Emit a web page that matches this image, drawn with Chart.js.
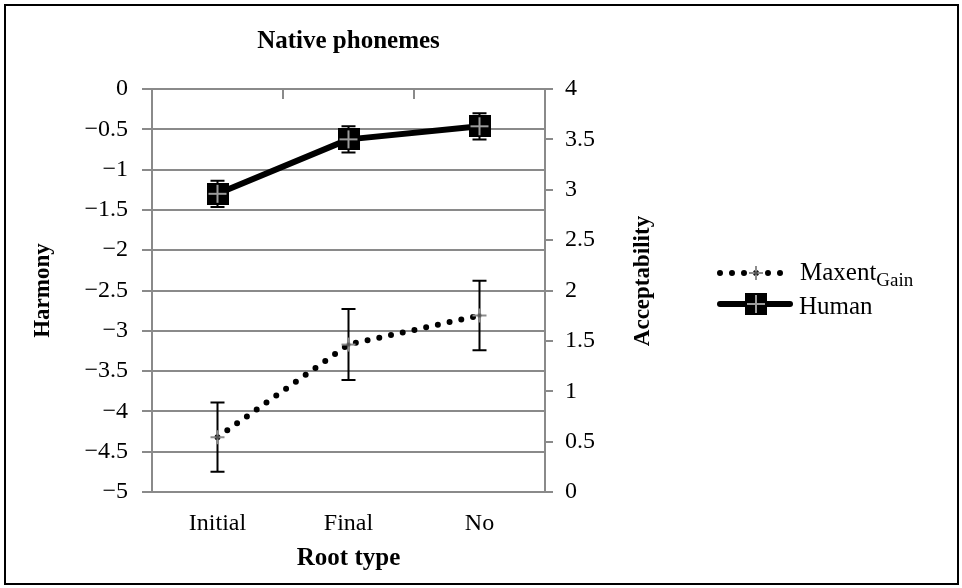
<!DOCTYPE html>
<html>
<head>
<meta charset="utf-8">
<title>Native phonemes</title>
<script src="https://cdn.jsdelivr.net/npm/chart.js@4.4.1/dist/chart.umd.min.js"></script>
<style>
  html, body { margin: 0; padding: 0; background: #fff; }
  #wrap { position: relative; width: 962px; height: 588px; }
  #frame { position: absolute; left: 4px; top: 4px; width: 955px; height: 581px; border: 2px solid #000; box-sizing: border-box; pointer-events: none; }
</style>
</head>
<body>
<div id="wrap">
  <canvas id="rootChart" width="962" height="588"></canvas>
  <div id="frame"></div>
</div>
<script>
// data
const rootTypes = ["Initial", "Final", "No"];
const maxentHarmony = [-4.32, -3.17, -2.81];
const maxentError = [0.43, 0.44, 0.43];
const humanAcceptability = [2.96, 3.5, 3.63];
const humanError = [0.13, 0.13, 0.13];
const harmonyRange = [-5, 0];
const acceptRange = [0, 4];
const tickStep = 0.5;

const serif = "'Liberation Serif', 'Times New Roman', serif";
const gridGray = "#8a8a8a";

// marker images
function humanMarker() {
  const c = document.createElement("canvas");
  c.width = 22; c.height = 22;
  const g = c.getContext("2d");
  g.fillStyle = "#000";
  g.fillRect(0, 0, 22, 22);
  g.strokeStyle = "#9c9c9c";
  g.lineWidth = 2;
  g.beginPath();
  g.moveTo(11, 2); g.lineTo(11, 20);
  g.moveTo(2, 11); g.lineTo(20, 11);
  g.stroke();
  return c;
}

function maxentMarker() {
  const c = document.createElement("canvas");
  c.width = 16; c.height = 16;
  const g = c.getContext("2d");
  g.strokeStyle = "#8c8c8c";
  g.lineWidth = 2;
  g.beginPath();
  g.moveTo(8, 1); g.lineTo(8, 15);
  g.moveTo(1, 8); g.lineTo(15, 8);
  g.stroke();
  g.fillStyle = "#555";
  g.beginPath();
  g.arc(8, 8, 2, 0, Math.PI * 2);
  g.fill();
  return c;
}

const humanPoint = humanMarker();
const maxentPoint = maxentMarker();

// error bars, drawn under the lines and markers
const errorBars = {
  id: "errorBars",
  beforeDatasetsDraw(chart) {
    const ctx = chart.ctx;
    ctx.save();
    ctx.strokeStyle = "#000";
    ctx.lineWidth = 2;
    chart.data.datasets.forEach((ds, i) => {
      const meta = chart.getDatasetMeta(i);
      const yScale = chart.scales[ds.yAxisID];
      meta.data.forEach((pt, j) => {
        const top = yScale.getPixelForValue(ds.data[j] + ds.errors[j]);
        const bottom = yScale.getPixelForValue(ds.data[j] - ds.errors[j]);
        const x = pt.x;
        ctx.beginPath();
        ctx.moveTo(x, top); ctx.lineTo(x, bottom);
        ctx.moveTo(x - 7, top); ctx.lineTo(x + 7, top);
        ctx.moveTo(x - 7, bottom); ctx.lineTo(x + 7, bottom);
        ctx.stroke();
      });
    });
    ctx.restore();
  }
};

// top category ticks, axis titles drawn by hand and the legend
const extras = {
  id: "extras",
  afterDraw(chart) {
    const ctx = chart.ctx;
    const area = chart.chartArea;
    const x = chart.scales.x;
    ctx.save();

    ctx.strokeStyle = gridGray;
    ctx.lineWidth = 2;
    for (let i = 0; i < rootTypes.length - 1; i++) {
      const bx = Math.round((x.getPixelForTick(i) + x.getPixelForTick(i + 1)) / 2);
      ctx.beginPath();
      ctx.moveTo(bx, area.top);
      ctx.lineTo(bx, area.top + 10);
      ctx.stroke();
    }

    ctx.fillStyle = "#000";
    ctx.font = "bold 23px " + serif;
    ctx.textAlign = "center";
    ctx.textBaseline = "middle";
    ctx.save();
    ctx.translate(643, 281);
    ctx.rotate(-Math.PI / 2);
    ctx.fillText("Acceptability", 0, 0);
    ctx.restore();

    // legend
    const ds = chart.data.datasets;
    const lx0 = 720, lx1 = 790, mid = 756;
    ctx.strokeStyle = "#000";
    ctx.lineCap = "round";
    ctx.setLineDash(ds[0].borderDash);
    ctx.lineWidth = ds[0].borderWidth;
    ctx.beginPath();
    ctx.moveTo(lx0, 273); ctx.lineTo(lx1 - 8, 273);
    ctx.stroke();
    ctx.setLineDash([]);
    ctx.drawImage(maxentPoint, mid - 8, 273 - 8);

    ctx.lineWidth = ds[1].borderWidth;
    ctx.beginPath();
    ctx.moveTo(lx0, 304); ctx.lineTo(lx1, 304);
    ctx.stroke();
    ctx.drawImage(humanPoint, mid - 11, 304 - 11);

    ctx.textAlign = "left";
    ctx.textBaseline = "alphabetic";
    ctx.font = "25px " + serif;
    ctx.fillText("Maxent", 800, 280);
    const w = ctx.measureText("Maxent").width;
    ctx.font = "19px " + serif;
    ctx.fillText("Gain", 800 + w, 286);
    ctx.font = "25px " + serif;
    ctx.fillText("Human", 799, 314);

    ctx.restore();
  }
};

const ctxRoot = document.getElementById("rootChart").getContext("2d");
new Chart(ctxRoot, {
  type: "line",
  data: {
    labels: rootTypes,
    datasets: [
      {
        label: "MaxentGain",
        data: maxentHarmony,
        errors: maxentError,
        yAxisID: "y",
        borderColor: "#000",
        borderWidth: 6,
        borderDash: [0, 12],
        borderCapStyle: "round",
        pointStyle: maxentPoint,
        fill: false,
        tension: 0,
      },
      {
        label: "Human",
        data: humanAcceptability,
        errors: humanError,
        yAxisID: "y1",
        borderColor: "#000",
        borderWidth: 6,
        borderCapStyle: "round",
        borderJoinStyle: "round",
        pointStyle: humanPoint,
        fill: false,
        tension: 0,
      },
    ],
  },
  options: {
    responsive: false,
    animation: false,
    events: [],
    layout: { padding: 0 },
    plugins: {
      legend: { display: false },
      tooltip: { enabled: false },
      title: {
        display: true,
        fullSize: false,
        text: "Native phonemes",
        color: "#000",
        font: { family: serif, size: 25, weight: "bold" },
        padding: { top: 27, bottom: 32 },
      },
    },
    scales: {
      x: {
        type: "category",
        offset: true,
        grid: { display: false, drawTicks: false },
        border: { display: true, color: gridGray, width: 2 },
        ticks: { color: "#000", font: { family: serif, size: 24 }, padding: 17 },
        title: {
          display: true,
          text: "Root type",
          color: "#000",
          font: { family: serif, size: 25, weight: "bold" },
          padding: { top: 0, bottom: 14 },
        },
        afterFit(scale) { scale.height = 96; },
      },
      y: {
        position: "left",
        min: harmonyRange[0],
        max: harmonyRange[1],
        grid: { color: gridGray, lineWidth: 2, drawTicks: true, tickLength: 10 },
        border: { display: true, color: gridGray, width: 2 },
        ticks: {
          stepSize: tickStep,
          color: "#000",
          font: { family: serif, size: 24 },
          padding: 14,
          callback: (v) => String(v).replace("-", "\u2212"),
        },
        title: {
          display: true,
          text: "Harmony",
          color: "#000",
          font: { family: serif, size: 23, weight: "bold" },
          padding: { top: 29, bottom: 0 },
        },
        afterFit(scale) { scale.width = 152; },
      },
      y1: {
        position: "right",
        min: acceptRange[0],
        max: acceptRange[1],
        grid: { drawOnChartArea: false, color: gridGray, lineWidth: 2, drawTicks: true, tickLength: 8 },
        border: { display: true, color: gridGray, width: 2 },
        ticks: {
          stepSize: tickStep,
          color: "#000",
          font: { family: serif, size: 24 },
          padding: 12,
          callback: (v) => String(v),
        },
        afterFit(scale) { scale.width = 417; },
      },
    },
  },
  plugins: [errorBars, extras],
});
</script>
</body>
</html>
